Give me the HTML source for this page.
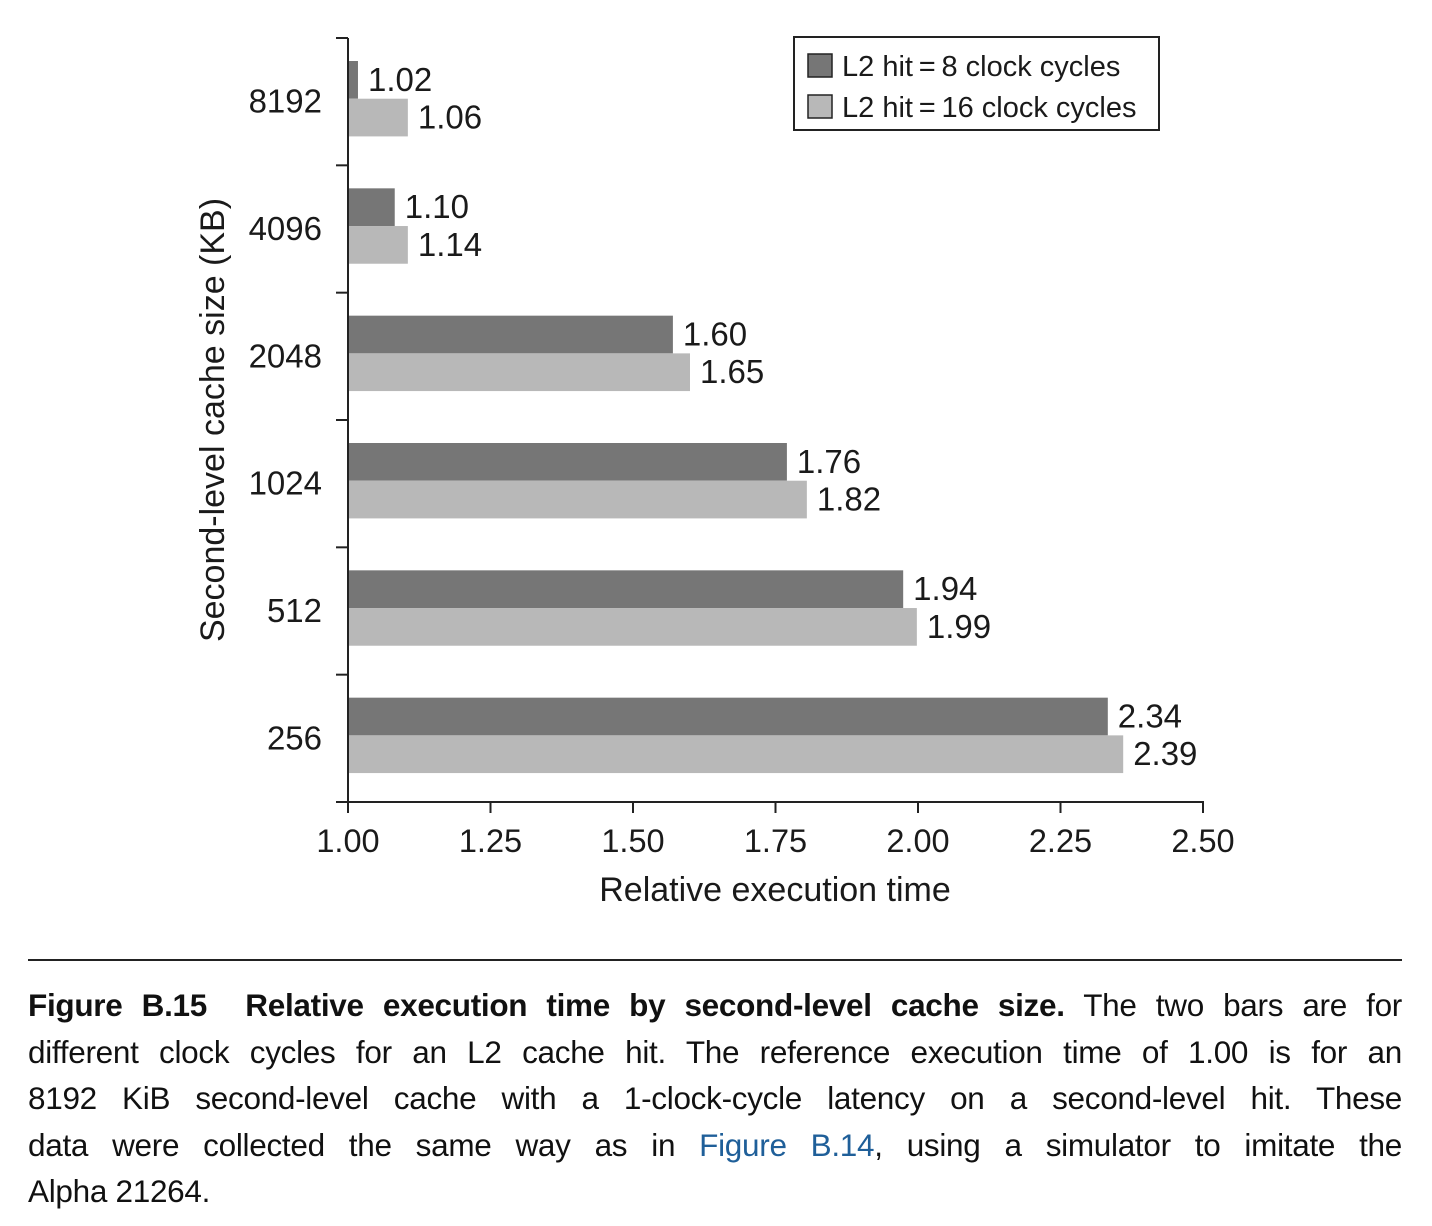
<!DOCTYPE html>
<html>
<head>
<meta charset="utf-8">
<style>
  html,body{margin:0;padding:0;background:#fff;}
  body{width:1432px;height:1226px;position:relative;overflow:hidden;font-family:"Liberation Sans",sans-serif;}
  svg text{font-family:"Liberation Sans",sans-serif;fill:#1a1a1a;}
  #rule{position:absolute;left:28px;top:959px;width:1374px;height:2px;background:#222;}
  #caption{position:absolute;left:28px;top:982px;width:1374px;font-size:31.5px;line-height:46.6px;color:#111;letter-spacing:-0.3px;}
  #caption .ln{text-align:justify;text-align-last:justify;white-space:nowrap;}
  #caption .ln.last{text-align-last:left;}
  #caption a{color:#1f5f99;text-decoration:none;}
</style>
</head>
<body>
<svg id="chart" width="1432" height="940" style="position:absolute;left:0;top:0"></svg>
<div id="rule"></div>
<div id="caption">
  <div class="ln"><b>Figure B.15&nbsp; Relative execution time by second-level cache size.</b> The two bars are for</div>
  <div class="ln">different clock cycles for an L2 cache hit. The reference execution time of 1.00 is for an</div>
  <div class="ln">8192 KiB second-level cache with a 1-clock-cycle latency on a second-level hit. These</div>
  <div class="ln">data were collected the same way as in <a href="#">Figure B.14</a>, using a simulator to imitate the</div>
  <div class="ln last">Alpha 21264.</div>
</div>
<script>
const categories = ["8192","4096","2048","1024","512","256"];
const series8 = [1.0175,1.082,1.57,1.77,1.974,2.333];
const series16 = [1.105,1.105,1.60,1.805,1.998,2.36];
const labels8 = ["1.02","1.10","1.60","1.76","1.94","2.34"];
const labels16 = ["1.06","1.14","1.65","1.82","1.99","2.39"];
const xTicks = [1.00,1.25,1.50,1.75,2.00,2.25,2.50];
const xTickLabels = ["1.00","1.25","1.50","1.75","2.00","2.25","2.50"];

const NS="http://www.w3.org/2000/svg";
const svg=document.getElementById('chart');
const x0=348, x1=1203, xmin=1.0, xmax=2.5;
const yTop=38, yBot=802;
const band=(yBot-yTop)/categories.length;
const xs=v=>x0+(v-xmin)/(xmax-xmin)*(x1-x0);
const yb=i=>yTop+i*band;
function mk(tag,attrs,parent){const e=document.createElementNS(NS,tag);for(const k in attrs)e.setAttribute(k,attrs[k]);(parent||svg).appendChild(e);return e;}

const gBars=mk('g',{});


const bh=37.7, off=23;
categories.forEach((c,i)=>{
  const top=yb(i)+off;
  const r1=mk('rect',{x:x0,y:top,width:xs(series8[i])-x0,height:bh,fill:'#767676'},gBars);
  
  
  const r2=mk('rect',{x:x0,y:top+bh,width:xs(series16[i])-x0,height:bh,fill:'#b8b8b8'},gBars);
  
  
  const t1=mk('text',{x:xs(series8[i])+10,y:top+bh/2+11,'font-size':33},gBars);
  t1.textContent=labels8[i];
  
  
  const t2=mk('text',{x:xs(series16[i])+10,y:top+bh*1.5+11,'font-size':33},gBars);
  t2.textContent=labels16[i];
  
  
  const cl=mk('text',{x:322,y:yb(i)+band/2+11,'font-size':33,'text-anchor':'end'});
  cl.textContent=c;
  
  
});
const ya=mk('line',{x1:x0,y1:yTop,x2:x0,y2:yBot,stroke:'#222','stroke-width':2});


for(let i=0;i<=categories.length;i++){
  const t=mk('line',{x1:336,y1:yb(i),x2:x0,y2:yb(i),stroke:'#222','stroke-width':2});
  
  
}
const xa=mk('line',{x1:x0-1,y1:yBot,x2:x1+1,y2:yBot,stroke:'#222','stroke-width':2});


xTicks.forEach((v,i)=>{
  const t=mk('line',{x1:xs(v),y1:yBot,x2:xs(v),y2:yBot+11,stroke:'#222','stroke-width':2});
  
  
  const l=mk('text',{x:xs(v),y:852,'font-size':32.5,'text-anchor':'middle'});
  l.textContent=xTickLabels[i];
  
  
});
const xt=mk('text',{x:775,y:901,'font-size':34,'text-anchor':'middle'});
xt.textContent='Relative execution time';


const yt=mk('text',{x:0,y:0,'font-size':34,'text-anchor':'middle',transform:'translate(224,420) rotate(-90)'});
yt.textContent='Second-level cache size (KB)';


const lg=mk('g',{});


mk('rect',{x:794,y:37,width:365,height:93,fill:'#fff',stroke:'#222','stroke-width':2},lg);
const le=[['#767676','L2 hit\u2009=\u20098 clock cycles',54],['#b8b8b8','L2 hit\u2009=\u200916 clock cycles',95]];
le.forEach(([c,t,y],i)=>{
  const s=mk('rect',{x:808,y:y,width:24,height:23,fill:c,stroke:'#222','stroke-width':1.5},lg);
  
  
  const tx=mk('text',{x:842,y:y+22,'font-size':29},lg);
  tx.textContent=t;
  
  
});
</script>
</body>
</html>
